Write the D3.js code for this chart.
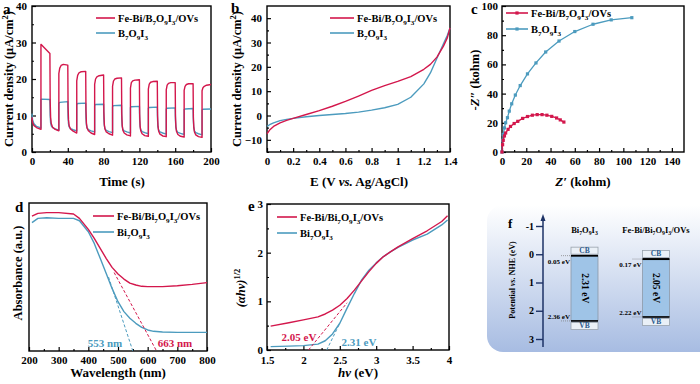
<!DOCTYPE html>
<html><head><meta charset="utf-8">
<script src="https://cdn.jsdelivr.net/npm/d3@7"></script>
<style>
html,body{margin:0;padding:0;background:#fff;}
svg{display:block;font-family:"Liberation Serif","Times New Roman",serif;font-weight:bold;}
</style></head><body>
<svg id="fig" width="700" height="384"></svg>
<script>
const RED = '#d3174c';
const BLUE = '#4c9bbe';

// ── a: chopped photocurrent, [t (s), j (µA/cm²)] ──
const itRed = [[0,9.5],[0.5,8.2],[2,7.3],[5,6.7],[10,6.2],
  [10,29.5],[20,27.0],[20.3,14],[20.8,9.5],[21.5,7.8],[23,6.8],[26,6.2],[30,5.8],
  [30,21.5],[31,23.0],[32.5,23.7],[35,24.0],[40,23.8],[40.3,12.5],[40.8,8.8],[41.5,7.2],[43,6.3],[46,5.7],[50,5.2],
  [50,19.5],[51,21.0],[52.5,21.7],[55,22.0],[60,22.1],[60.3,11.5],[60.8,8.0],[61.5,6.6],[63,5.8],[66,5.2],[70,4.8],
  [70,18.5],[71,20.0],[72.5,20.6],[75,20.9],[80,21.1],[80.3,11],[80.8,7.6],[81.5,6.3],[83,5.5],[86,5.0],[90,4.6],
  [90,18.0],[91,19.4],[92.5,20.0],[95,20.2],[100,20.3],[100.3,10.5],[100.8,7.3],[101.5,6.0],[103,5.2],[106,4.7],[110,4.4],
  [110,17.5],[111,19.0],[112.5,19.5],[115,19.7],[120,19.8],[120.3,10.3],[120.8,7.1],[121.5,5.8],[123,5.0],[126,4.5],[130,4.3],
  [130,17.2],[131,18.6],[132.5,19.1],[135,19.3],[140,19.4],[140.3,10],[140.8,7.0],[141.5,5.7],[143,4.9],[146,4.4],[150,4.2],
  [150,17.0],[151,18.3],[152.5,18.8],[155,19.0],[160,19.0],[160.3,9.8],[160.8,6.9],[161.5,5.6],[163,4.8],[166,4.3],[170,4.1],
  [170,16.9],[171,18.0],[172.5,18.5],[175,18.7],[180,18.7],[180.3,9.6],[180.8,6.8],[181.5,5.5],[183,4.7],[186,4.2],[190,4.0],
  [190,16.8],[191,17.6],[192.5,18.0],[195,18.3],[200,18.5]];
const itBlue = [[0,10.5],[0.5,9.0],[2,7.8],[5,7.0],[10,6.6],
  [10,14.3],[11,14.5],[20,14.4],[20.3,10],[20.8,8.0],[21.5,7.2],[23,6.7],[26,6.3],[30,6.0],
  [30,13.3],[31,13.6],[40,13.8],[40.3,9.6],[40.8,7.7],[41.5,6.9],[43,6.4],[46,6.1],[50,5.8],
  [50,13.0],[51,13.3],[60,13.4],[60.3,9.3],[60.8,7.4],[61.5,6.6],[63,6.1],[66,5.8],[70,5.5],
  [70,12.7],[71,13.0],[80,13.1],[80.3,9.1],[80.8,7.2],[81.5,6.4],[83,5.9],[86,5.6],[90,5.3],
  [90,12.4],[91,12.7],[100,12.8],[100.3,8.9],[100.8,7.0],[101.5,6.2],[103,5.8],[106,5.5],[110,5.2],
  [110,12.2],[111,12.4],[120,12.5],[120.3,8.8],[120.8,6.9],[121.5,6.1],[123,5.6],[126,5.3],[130,5.0],
  [130,12.0],[131,12.2],[140,12.3],[140.3,8.7],[140.8,6.8],[141.5,6.0],[143,5.5],[146,5.2],[150,4.9],
  [150,11.8],[151,12.0],[160,12.1],[160.3,8.6],[160.8,6.7],[161.5,5.9],[163,5.4],[166,5.1],[170,4.8],
  [170,11.6],[171,11.8],[180,11.9],[180.3,8.5],[180.8,6.6],[181.5,5.8],[183,5.3],[186,5.0],[190,4.7],
  [190,11.5],[191,11.7],[200,11.8]];

// ── b: LSV ──
const lsvE    = [0, 0.02, 0.05, 0.1, 0.15, 0.2, 0.3, 0.4, 0.5, 0.6, 0.7, 0.8, 0.9, 1.0, 1.1, 1.2, 1.25, 1.3, 1.35, 1.38, 1.4];
const lsvRed  = [-7.5, -6, -4.5, -3, -2, -1.2, 0.4, 2, 3.8, 5.8, 8, 10.3, 12.3, 14, 16, 19, 21, 24, 28.5, 32, 36];
const lsvBlue = [-4.5, -3.8, -3, -2.1, -1.6, -1.2, -0.5, 0, 0.4, 0.8, 1.4, 2.2, 3.2, 4.6, 7.5, 13, 17.5, 23.5, 29.5, 33, 36];

// ── c: Nyquist, [Z', -Z''] (kohm) ──
const eisRed = [[0,0],[0.5,5],[1,8],[2,11],[3,13],[5,15.5],[7,17.5],[10,19.5],[13,21],[17,23],[21,24.3],
  [25,25.2],[29,25.6],[33,25.6],[37,25.2],[41,24.4],[45,23.3],[48,22],[51,20.5]];
const eisBlue = [[0,0],[0.5,8],[1,12],[2,16.5],[3,20],[4.5,23.5],[6,28],[8,33],[11,39],[15,45.5],[21,53.5],
  [28,61],[36,68.5],[47,76],[60,82.5],[75,87.5],[90,90.5],[107,92]];

// ── d: UV-vis absorbance (a.u.) ──
const wl      = [210, 230, 260, 300, 350, 370, 400, 420, 440, 460, 480, 500, 520, 540, 560, 580, 600, 620, 650, 700, 750, 800];
const absRed  = [0.912, 0.93, 0.935, 0.935, 0.926, 0.896, 0.822, 0.761, 0.694, 0.626, 0.565, 0.52, 0.486, 0.459, 0.446, 0.437, 0.435, 0.435, 0.435, 0.441, 0.45, 0.462];
const absBlue = [0.867, 0.896, 0.9, 0.896, 0.896, 0.88, 0.806, 0.727, 0.626, 0.525, 0.423, 0.333, 0.266, 0.221, 0.187, 0.16, 0.142, 0.133, 0.128, 0.126, 0.126, 0.126];
const dTanRed  = [[487, 0.53], [630, 0]];
const dTanBlue = [[468, 0.50], [550, 0]];

// ── e: Tauc plot ──
const hv       = [1.55, 1.8, 2.0, 2.2, 2.3, 2.4, 2.5, 2.6, 2.7, 2.8, 2.9, 3.0, 3.1, 3.2, 3.3, 3.5, 3.7, 3.9, 3.98];
const taucRed  = [0.49, 0.56, 0.62, 0.68, 0.74, 0.82, 0.92, 1.06, 1.23, 1.42, 1.61, 1.78, 1.92, 2.02, 2.12, 2.29, 2.45, 2.64, 2.76];
const taucBlue = [0.07, 0.08, 0.09, 0.12, 0.19, 0.33, 0.55, 0.86, 1.16, 1.44, 1.64, 1.79, 1.92, 2.02, 2.11, 2.26, 2.38, 2.57, 2.67];
const eTanRed  = [[2.07, 0], [2.6, 0.97]];
const eTanBlue = [[2.32, 0], [2.5, 0.55]];

// ── f: band structure (V vs. NHE) ──
const bandNames = ['Bi7O9I3', 'Fe-Bi/Bi7O9I3/OVs'];
const bandCB  = [0.05, 0.17];
const bandVB  = [2.36, 2.22];
const bandGap = ['2.31 eV', '2.05 eV'];
const fTicks  = [-1, 0, 1, 2, 3];

const FE_B  = [['Fe-Bi/B'], ['7', 'sub'], ['O'], ['9', 'sub'], ['I'], ['3', 'sub'], ['/OVs']];
const B_    = [['B'], ['7', 'sub'], ['O'], ['9', 'sub'], ['I'], ['3', 'sub']];
const FE_BI = [['Fe-Bi/Bi'], ['7', 'sub'], ['O'], ['9', 'sub'], ['I'], ['3', 'sub'], ['/OVs']];
const BI_   = [['Bi'], ['7', 'sub'], ['O'], ['9', 'sub'], ['I'], ['3', 'sub']];

const svg = d3.select('#fig');

function rich(t, parts, fs) {
  let cur = 0;
  parts.forEach(([s, k]) => {
    const off = k === 'sub' ? fs * 0.28 : k === 'sup' ? -fs * 0.4 : 0;
    const ts = t.append('tspan').text(s);
    if (off !== cur) { ts.attr('dy', off - cur); cur = off; }
    if (k === 'sub' || k === 'sup') ts.attr('font-size', fs * 0.68);
    if (k === 'i') ts.attr('font-style', 'italic');
  });
  return t;
}

function label(x, y, parts, fs, o = {}) {
  const t = svg.append('text').attr('x', x).attr('y', y).attr('font-size', fs)
    .attr('text-anchor', o.anchor || 'start').attr('fill', o.fill || '#000');
  if (o.rot) t.attr('transform', `rotate(${o.rot},${x},${y})`);
  return rich(t, parts, fs);
}

function frame(box, xDom, yDom, o) {
  const x = d3.scaleLinear().domain(xDom).range([box.l, box.r]);
  const y = d3.scaleLinear().domain(yDom).range([box.b, box.t]);
  const g = svg.append('g');
  if (o.xMinor) g.append('g').attr('transform', `translate(0,${box.b})`)
    .call(d3.axisBottom(x).tickValues(o.xMinor).tickSize(-2).tickFormat(''));
  g.append('g').attr('transform', `translate(0,${box.b})`)
    .call(d3.axisBottom(x).tickValues(o.xTicks).tickSizeInner(-4).tickSizeOuter(0).tickPadding(o.xPad || 5)
      .tickFormat(o.xFmt || (d => d)));
  if (o.yTicks) {
    if (o.yMinor) g.append('g').attr('transform', `translate(${box.l},0)`)
      .call(d3.axisLeft(y).tickValues(o.yMinor).tickSize(-2).tickFormat(''));
    g.append('g').attr('transform', `translate(${box.l},0)`)
      .call(d3.axisLeft(y).tickValues(o.yTicks).tickSizeInner(-4).tickSizeOuter(0).tickPadding(o.yPad || 5)
        .tickFormat(o.yFmt || (d => d)));
  }
  g.selectAll('.domain').remove();
  g.selectAll('g').attr('font-family', null).attr('font-size', 11);
  g.selectAll('.tick line').attr('stroke', '#000').attr('stroke-width', 1.2);
  g.selectAll('.tick text').attr('fill', '#000');
  g.append('rect').attr('x', box.l).attr('y', box.t)
    .attr('width', box.r - box.l).attr('height', box.b - box.t)
    .attr('fill', 'none').attr('stroke', '#000').attr('stroke-width', 1.4);
  return { x, y };
}

function curve(sc, pts, color, w = 1.4) {
  svg.append('path').datum(pts)
    .attr('d', d3.line().x(d => sc.x(d[0])).y(d => sc.y(d[1])))
    .attr('fill', 'none').attr('stroke', color).attr('stroke-width', w).attr('stroke-linejoin', 'round');
}

function dashed(sc, pts, color) {
  svg.append('path').datum(pts)
    .attr('d', d3.line().x(d => sc.x(d[0])).y(d => sc.y(d[1])))
    .attr('fill', 'none').attr('stroke', color).attr('stroke-width', 1).attr('stroke-dasharray', '3,2');
}

function legendRow(x1, x2, y, color, parts, marker) {
  svg.append('line').attr('x1', x1).attr('x2', x2).attr('y1', y).attr('y2', y)
    .attr('stroke', color).attr('stroke-width', 1.6);
  if (marker) svg.append('rect').attr('x', (x1 + x2) / 2 - 1.6).attr('y', y - 1.6)
    .attr('width', 3.2).attr('height', 3.2).attr('fill', color);
  label(x2 + 3, y + 3.6, parts, 10.5);
}

const minus = d => d < 0 ? '\u2212' + Math.abs(d) : d;

// ── a ──
const A = frame({ l: 32, r: 211, t: 6, b: 152 }, [0, 200], [0, 40], {
  xTicks: d3.range(0, 201, 40), xMinor: d3.range(20, 200, 40),
  yTicks: d3.range(0, 41, 10), yMinor: d3.range(5, 40, 10) });
curve(A, itBlue, BLUE);
curve(A, itRed, RED);
legendRow(96, 115, 18, RED, FE_B);
legendRow(96, 115, 33, BLUE, B_);
label(3, 14, [['a']], 15);
label(13, 79, [['Current density (μA/cm'], ['2', 'sup'], [')']], 12.5, { anchor: 'middle', rot: -90 });
label(122, 186, [['Time (s)']], 13, { anchor: 'middle' });

// ── b ──
const B = frame({ l: 267, r: 450, t: 6, b: 152 }, [0, 1.4], [-15, 45], {
  xTicks: [0, 0.2, 0.4, 0.6, 0.8, 1, 1.2, 1.4], xMinor: [0.1, 0.3, 0.5, 0.7, 0.9, 1.1, 1.3],
  yTicks: d3.range(-10, 41, 10), yMinor: d3.range(-15, 45, 10), yFmt: minus });
curve(B, lsvE.map((e, i) => [e, lsvBlue[i]]), BLUE);
curve(B, lsvE.map((e, i) => [e, lsvRed[i]]), RED);
legendRow(330, 354, 18, RED, FE_B);
legendRow(330, 354, 33, BLUE, B_);
label(231, 13, [['b']], 15);
label(241, 79, [['Current density (μA/cm'], ['2', 'sup'], [')']], 12.5, { anchor: 'middle', rot: -90 });
label(359, 186, [['E (V '], ['vs.', 'i'], [' Ag/AgCl)']], 13, { anchor: 'middle' });

// ── c ──
const C = frame({ l: 502, r: 684, t: 6, b: 152 }, [0, 150], [0, 100], {
  xTicks: d3.range(0, 141, 20), xMinor: d3.range(10, 150, 20),
  yTicks: d3.range(0, 101, 20), yMinor: d3.range(10, 100, 20), yPad: 4 });
[[eisBlue, BLUE], [eisRed, RED]].forEach(([pts, col]) => {
  curve(C, pts, col, 1.3);
  svg.append('g').selectAll('rect').data(pts).join('rect')
    .attr('x', d => C.x(d[0]) - 1.6).attr('y', d => C.y(d[1]) - 1.6)
    .attr('width', 3.2).attr('height', 3.2).attr('fill', col);
});
legendRow(506, 528, 13, RED, FE_B, true);
legendRow(506, 528, 29, BLUE, B_, true);
label(471, 14, [['c']], 15);
label(479, 80, [['-'], ['Z″', 'i'], [' (kohm)']], 12.5, { anchor: 'middle', rot: -90 });
label(583, 186, [['Z′', 'i'], [' (kohm)']], 13, { anchor: 'middle' });

// ── d ──
const D = frame({ l: 29, r: 207, t: 203, b: 351 }, [200, 800], [0, 1], {
  xTicks: d3.range(200, 801, 100), xMinor: d3.range(250, 800, 100) });
curve(D, wl.map((w, i) => [w, absBlue[i]]), BLUE);
curve(D, wl.map((w, i) => [w, absRed[i]]), RED);
dashed(D, dTanBlue, BLUE);
dashed(D, dTanRed, RED);
legendRow(93, 114, 216, RED, FE_BI);
legendRow(93, 114, 232, BLUE, BI_);
label(105, 347, [['553 nm']], 11, { anchor: 'middle', fill: BLUE });
label(175, 347, [['663 nm']], 11, { anchor: 'middle', fill: RED });
label(15, 212, [['d']], 15);
label(22, 273, [['Absorbance (a.u.)']], 12.5, { anchor: 'middle', rot: -90 });
label(118, 377, [['Wavelength (nm)']], 13, { anchor: 'middle' });

// ── e ──
const E = frame({ l: 267, r: 449, t: 204, b: 350 }, [1.5, 4], [0, 3], {
  xTicks: [1.5, 2, 2.5, 3, 3.5, 4], xMinor: [1.75, 2.25, 2.75, 3.25, 3.75],
  yTicks: [0, 1, 2, 3], yMinor: [0.5, 1.5, 2.5], yPad: 4, xPad: 6 });
curve(E, hv.map((h, i) => [h, taucBlue[i]]), BLUE);
curve(E, hv.map((h, i) => [h, taucRed[i]]), RED);
dashed(E, eTanBlue, BLUE);
dashed(E, eTanRed, RED);
legendRow(277, 297, 217, RED, FE_BI);
legendRow(277, 297, 233, BLUE, BI_);
label(299, 341, [['2.05 eV']], 11, { anchor: 'middle', fill: RED });
label(359, 346, [['2.31 eV']], 11, { anchor: 'middle', fill: BLUE });
label(248, 211, [['e']], 15);
label(245, 288, [['(αhν)', 'i'], ['1/2', 'sup']], 12.5, { anchor: 'middle', rot: -90 });
label(358, 377, [['hν', 'i'], [' (eV)']], 13, { anchor: 'middle' });

// ── f ──
const defs = svg.append('defs');
const grad = defs.append('linearGradient').attr('id', 'fbg').attr('x1', 0).attr('y1', 0).attr('x2', 0).attr('y2', 1);
grad.append('stop').attr('offset', '0%').attr('stop-color', '#ffffff');
grad.append('stop').attr('offset', '100%').attr('stop-color', '#a7bce2');
svg.append('rect').attr('x', 487).attr('y', 205).attr('width', 230).attr('height', 147)
  .attr('rx', 16).attr('fill', 'url(#fbg)');

const fy = d3.scaleLinear().domain([-1, 3]).range([226, 339]);
const fx = d3.scalePoint().domain(bandNames).range([584.5, 656]);
const BW = 27;
const AX = 543;
const fAxis = svg.append('g').attr('transform', `translate(${AX},0)`)
  .call(d3.axisLeft(fy).tickValues(fTicks).tickSize(7).tickPadding(2).tickFormat(d => d));
fAxis.select('.domain').remove();
fAxis.attr('font-family', null).attr('font-size', 10);
fAxis.selectAll('.tick line').attr('stroke', '#1d3266').attr('stroke-width', 1.4);
fAxis.selectAll('.tick text').attr('fill', '#000');
svg.append('line').attr('x1', AX).attr('x2', AX).attr('y1', 219).attr('y2', 347)
  .attr('stroke', '#1d3266').attr('stroke-width', 1.5);
svg.append('path').attr('d', `M${AX},214 L${AX - 2.5},221 L${AX + 2.5},221 Z`).attr('fill', '#1d3266');

bandNames.forEach((n, i) => {
  const cx = fx(n), x0 = cx - BW / 2;
  const yc = fy(bandCB[i]), yv = fy(bandVB[i]);
  svg.append('rect').attr('x', x0).attr('y', yc).attr('width', BW).attr('height', yv - yc)
    .attr('fill', '#9fc4e7').attr('stroke', '#8d9aa8').attr('stroke-width', 0.8);
  svg.append('line').attr('x1', x0).attr('x2', x0 + BW).attr('y1', yc).attr('y2', yc)
    .attr('stroke', '#000').attr('stroke-width', 2);
  svg.append('line').attr('x1', x0).attr('x2', x0 + BW).attr('y1', yv).attr('y2', yv)
    .attr('stroke', '#000').attr('stroke-width', 1.6);
  // CB / VB boxes
  [[yc - 8.5, 'CB', yc - 2.6], [yv + 1.5, 'VB', yv + 7.5]].forEach(([by, txt, ty]) => {
    svg.append('rect').attr('x', x0).attr('y', by).attr('width', BW).attr('height', 7)
      .attr('fill', '#eaf0f7').attr('stroke', '#9aa3ad').attr('stroke-width', 0.8);
    label(cx, ty, [[txt]], 7.5, { anchor: 'middle', fill: '#2c5a8c' });
  });
  // potential labels and dotted leaders
  svg.append('line').attr('x1', x0 - 10).attr('x2', x0).attr('y1', yc).attr('y2', yc)
    .attr('stroke', '#777').attr('stroke-width', 0.7).attr('stroke-dasharray', '1,1');
  svg.append('line').attr('x1', x0 - 10).attr('x2', x0).attr('y1', yv).attr('y2', yv)
    .attr('stroke', '#777').attr('stroke-width', 0.7).attr('stroke-dasharray', '1,1');
  label(x0 - 1, yc + 8, [[bandCB[i].toFixed(2) + ' eV']], 7, { anchor: 'end' });
  label(x0 - 1, yv - 2, [[bandVB[i].toFixed(2) + ' eV']], 7, { anchor: 'end' });
  label(cx - 3, (yc + yv) / 2, [[bandGap[i]]], 9.5, { anchor: 'middle', rot: 90 });
});
label(fx(bandNames[0]), 233, BI_, 8.5, { anchor: 'middle' });
label(fx(bandNames[1]), 233, FE_BI, 8.5, { anchor: 'middle' });
label(508, 228, [['f']], 13);
label(515, 280, [['Potential '], ['vs.', 'i'], [' NHE (eV)']], 8, { anchor: 'middle', rot: -90 });
</script>
</body></html>
